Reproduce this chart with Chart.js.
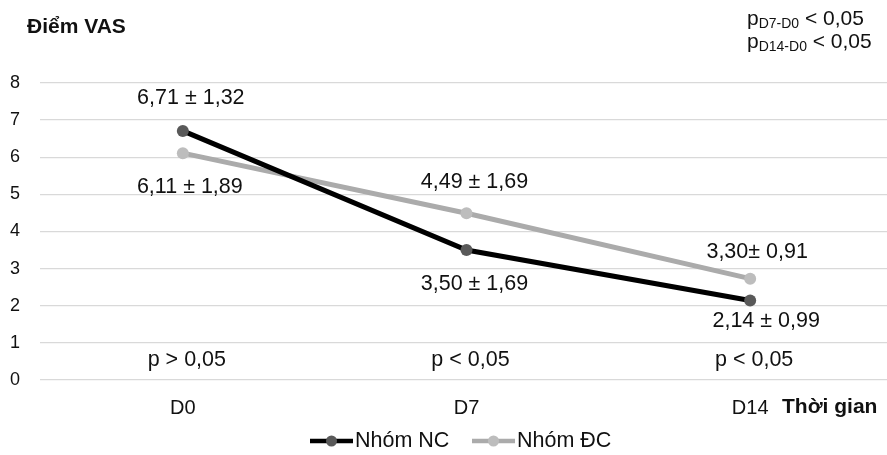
<!DOCTYPE html>
<html>
<head>
<meta charset="utf-8">
<script src="https://cdn.jsdelivr.net/npm/chart.js@4.4.1/dist/chart.umd.min.js"></script>
<style>
html,body{margin:0;padding:0;background:#fff;overflow:hidden;}
#wrap{width:887px;height:455px;overflow:hidden;position:relative;}
canvas{display:block;}
</style>
</head>
<body>
<div id="wrap"><canvas id="c" width="898" height="455"></canvas></div>
<script>
// ---- data ----
const categories = ['D0', 'D7', 'D14'];
const seriesNames = ['Nhóm NC', 'Nhóm ĐC'];
const nhomNC = [6.71, 3.50, 2.14];
const nhomDC = [6.11, 4.49, 2.73];
const yTickValues = [0, 1, 2, 3, 4, 5, 6, 7, 8];
const labelsNC = ['6,71 ± 1,32', '3,50 ± 1,69', '2,14 ± 0,99'];
const labelsDC = ['6,11 ± 1,89', '4,49 ± 1,69', '3,30± 0,91'];
const pLabels = ['p > 0,05', 'p < 0,05', 'p < 0,05'];
const yTitle = 'Điểm VAS';
const xTitle = 'Thời gian';
const pNotes = [['p', 'D7-D0', ' < 0,05'], ['p', 'D14-D0', ' < 0,05']];

// ---- layout / style (not data) ----
const FONT = '"Liberation Sans", Arial, sans-serif';
const offNC = [[8, -33], [8, 34], [16, 21]];
const offDC = [[7, 34], [8, -31], [7, -27]];

const annot = {
  id: 'annot',
  afterDraw(chart) {
    const ctx = chart.ctx;
    const xs = chart.scales.x, ys = chart.scales.y;
    ctx.save();
    ctx.fillStyle = '#111';
    ctx.textBaseline = 'middle';
    // y title
    ctx.font = 'bold 21px ' + FONT;
    ctx.textAlign = 'left';
    ctx.fillText(yTitle, 27, 27);
    // x title
    ctx.fillText(xTitle, 782, 407);
    // data labels
    ctx.font = '21.5px ' + FONT;
    ctx.textAlign = 'center';
    categories.forEach((c, i) => {
      const x = xs.getPixelForValue(i);
      ctx.fillText(labelsNC[i], x + offNC[i][0], ys.getPixelForValue(nhomNC[i]) + offNC[i][1]);
      ctx.fillText(labelsDC[i], x + offDC[i][0], ys.getPixelForValue(nhomDC[i]) + offDC[i][1]);
      ctx.fillText(pLabels[i], x + 4, 360);
    });
    // p notes top right
    ctx.textAlign = 'left';
    pNotes.forEach((n, k) => {
      const y = 19 + k * 23;
      let x = 747;
      ctx.font = '21px ' + FONT;
      ctx.fillText(n[0], x, y);
      x += ctx.measureText(n[0]).width;
      ctx.font = '14px ' + FONT;
      ctx.fillText(n[1], x, y + 5);
      x += ctx.measureText(n[1]).width;
      ctx.font = '21px ' + FONT;
      ctx.fillText(n[2], x, y);
    });
    // legend
    const items = chart.data.datasets;
    const lx = [310, 472];
    items.forEach((ds, i) => {
      const x0 = lx[i], y = 441;
      ctx.strokeStyle = ds.borderColor;
      ctx.lineWidth = 4.5;
      ctx.beginPath();
      ctx.moveTo(x0, y); ctx.lineTo(x0 + 43, y);
      ctx.stroke();
      ctx.fillStyle = ds.pointBackgroundColor;
      ctx.beginPath();
      ctx.arc(x0 + 21.5, y, 5.5, 0, Math.PI * 2);
      ctx.fill();
      ctx.fillStyle = '#111';
      ctx.font = '21.5px ' + FONT;
      ctx.textAlign = 'left';
      ctx.fillText(ds.label, x0 + 45, y);
    });
    ctx.restore();
  }
};

new Chart(document.getElementById('c'), {
  type: 'line',
  data: {
    labels: categories,
    datasets: [
      {
        label: seriesNames[0], data: nhomNC,
        borderColor: '#000000', borderWidth: 5,
        pointBackgroundColor: '#595959', pointBorderColor: '#595959',
        pointRadius: 6, pointBorderWidth: 0, tension: 0
      },
      {
        label: seriesNames[1], data: nhomDC,
        borderColor: '#ababab', borderWidth: 5,
        pointBackgroundColor: '#bdbdbd', pointBorderColor: '#bdbdbd',
        pointRadius: 6, pointBorderWidth: 0, tension: 0
      }
    ]
  },
  options: {
    responsive: false,
    animation: false,
    devicePixelRatio: 1,
    layout: { padding: { top: 83, bottom: 35, left: 0, right: 1 } },
    plugins: { legend: { display: false }, tooltip: { enabled: false }, title: { display: false } },
    scales: {
      x: {
        offset: true,
        grid: { display: false, drawTicks: false },
        border: { display: false },
        ticks: { color: '#111', font: { family: FONT, size: 20 }, padding: 16 },
        afterFit(s) { s.height = 40; }
      },
      y: {
        min: 0, max: 8,
        afterBuildTicks(s) { s.ticks = yTickValues.map(v => ({ value: v })); },
        grid: { color: '#d9d9d9', lineWidth: 1.3, drawTicks: true, tickLength: 1 },
        border: { display: false },
        ticks: { color: '#111', font: { family: FONT, size: 18 }, padding: 20 },
        afterFit(s) { s.width = 41; }
      }
    }
  },
  plugins: [annot]
});
</script>
</body>
</html>
